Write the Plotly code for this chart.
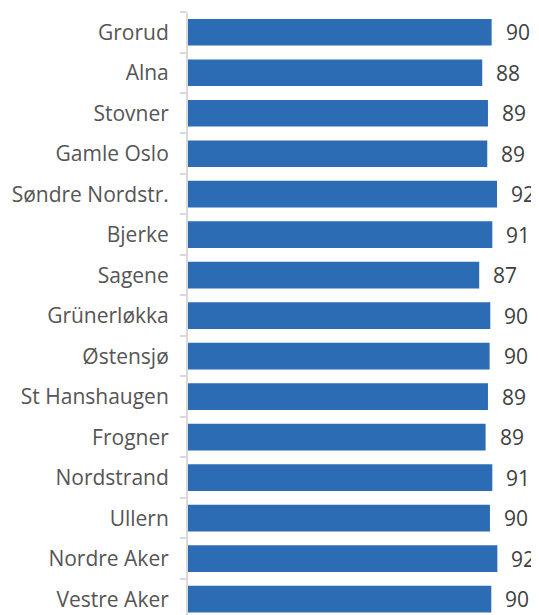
import plotly.graph_objects as go

categories = ["Grorud", "Alna", "Stovner", "Gamle Oslo", "Søndre Nordstr.", "Bjerke",
              "Sagene", "Grünerløkka", "Østensjø", "St Hanshaugen", "Frogner",
              "Nordstrand", "Ullern", "Nordre Aker", "Vestre Aker"]
values = [90.4, 87.6, 89.3, 89.1, 92.0, 90.6, 86.7, 90.0, 89.8, 89.3, 88.6,
          90.6, 89.9, 92.1, 90.3]

BAR = "#2b6cb4"
LABEL = "#555555"
VALUE = "#404040"
FONT = "Open Sans"

fig = go.Figure()
fig.add_trace(go.Bar(
    x=values, y=categories, orientation="h",
    marker=dict(color=BAR, line=dict(width=0)),
    hoverinfo="skip",
))

for c, v in zip(categories, values):
    fig.add_annotation(x=v, y=c, text=f"{v:.0f}", showarrow=False,
                       xanchor="left", yanchor="middle", xshift=12,
                       font=dict(family=FONT, size=21, color=VALUE))

# page body has an 8px default margin, so the figure is sized to fill the window
fig.update_layout(
    width=531, height=607,
    margin=dict(l=180, r=0, t=4, b=0),
    paper_bgcolor="white", plot_bgcolor="white",
    bargap=0.34,
    showlegend=False,
    xaxis=dict(range=[0, 104.5], visible=False, fixedrange=True, automargin=False),
    yaxis=dict(
        type="category",
        automargin=False,
        range=[14.39, -0.5],
        showline=True, linecolor="#d9d9d9", linewidth=2,
        ticks="outside", tickson="boundaries", ticklen=6,
        tickcolor="#d9d9d9", tickwidth=1.5,
        ticklabelstandoff=13,
        showgrid=False, zeroline=False,
        tickfont=dict(family=FONT, size=21, color=LABEL),
    ),
)

fig.write_html("out.html")
